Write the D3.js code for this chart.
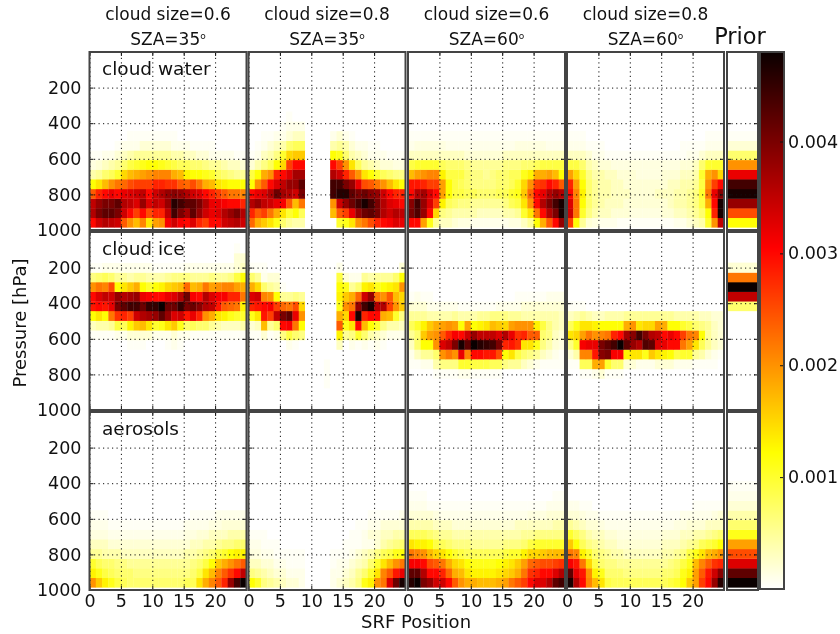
<!DOCTYPE html>
<head>
  <meta charset="utf-8">
  <script src="https://d3js.org/d3.v7.min.js"></script>
  <style>
    body { margin:0; background:#fff; }
    svg { font-family:"DejaVu Sans"; fill:#111; display:block; filter:blur(0.6px); }
    .grid line { stroke:#111; stroke-dasharray:1.2,3.3; stroke-width:1; }
    .grid path, .lab path, .lab line { display:none; }
    .lab text { font-size:17.5px; font-family:"DejaVu Sans"; fill:#111; }
    .tk line { stroke:#111; stroke-width:1; }
    .tk path { display:none; }
  </style>
</head>
<body>
<svg width="840" height="634"></svg>

<script>
  // cell values in units of 1e-4, rows go from the bottom level upward, columns are SRF position 0..24
  var pressureEdges = [985, 931, 877, 823, 769, 714, 660, 606, 552, 498, 443, 389, 335, 281, 227, 172, 118, 64, 10];
  var xTicks = [0, 5, 10, 15, 20];
  var yTicks = [200, 400, 600, 800, 1000];
  var cbarTicks = [0.001, 0.002, 0.003, 0.004];
  var topTitles = ["cloud size=0.6", "cloud size=0.8", "cloud size=0.6", "cloud size=0.8"];
  var szaTitles = ["SZA=35", "SZA=35", "SZA=60", "SZA=60"];
  var rowNames = ["cloud water", "cloud ice", "aerosols"];

  var water1 = [
    [30,34,36,35,34,24,20,17,21,14,19,20,31,34,31,30,33,28,26,30,30,34,35,36,34],
    [36,40,42,42,40,34,30,26,30,25,28,28,35,44,40,37,42,38,34,32,33,36,38,40,36],
    [35,38,40,40,42,36,35,33,38,33,35,34,38,46,44,42,42,40,36,32,32,31,30,30,28],
    [24,28,30,32,30,32,33,34,35,30,34,36,38,39,38,36,34,33,30,28,26,24,22,22,21],
    [12,14,17,20,22,23,25,26,26,26,28,28,27,27,24,23,25,22,18,17,14,13,12,12,12],
    [4,5,7,8,10,15,17,18,19,20,21,21,21,18,17,13,12,12,11,10,8,7,6,5,5],
    [1.5,2,3,4,5,7,9,10,11,12,12,11,10,9,8,8,7,7,6,5,5,4,3,3,2],
    [0.5,0.5,1,1,2,3,4,5,5,5,5,5,5,4,4,3,3,2,2,1,1,1,1,0.5,0.5],
    [0,0,0,0,0.5,1,1,1,2,2,2,2,2,1,1,1,0.5,0.5,0.5,0.5,0,0,0,0,0],
    [0,0,0,0,0,0,0.5,0.5,0.5,0.5,0.5,0.5,0.5,0.5,0,0,0,0,0,0,0,0,0,0,0]
  ];
  var water2 = [
    [23,18,16,14,11,7,5,4,4,0,0,0,0,0,10,11,14,20,22,25,28,30,31,33,32],
    [28,24,26,22,18,14,10,12,8,0,0,0,0,17,24,26,32,38,41,42,40,36,34,36,35],
    [36,38,35,34,32,31,24,17,22,0,0,0,0,20,34,38,41,44,47,44,40,36,33,32,30],
    [30,32,33,36,41,37,36,34,40,0,0,0,0,44,46,46,42,40,41,39,38,34,30,28,28],
    [12,20,24,30,33,35,38,38,42,0,0,0,0,44,44,40,38,32,25,24,22,20,17,14,12],
    [9,12,18,20,28,30,33,37,37,0,0,0,0,36,34,28,24,20,14,12,10,8,7,6,6],
    [2,4,6,8,12,15,26,30,30,0,0,0,0,30,26,20,14,8,5,4,3,2,2,1.5,1.5],
    [0.5,1,3,4,6,10,15,16,16,0,0,0,0,12,11,7,4,3,2,1,1,1,0.5,0.5,0.5],
    [0,0.5,1,2,3,4,7,8,8,0,0,0,0,4,5,4,2,1,1,0.5,0.5,0,0,0,0],
    [0,0,0.5,0.5,1,1,2,3,3,0,0,0,0,1,2,1,0.5,0,0,0,0,0,0,0,0],
    [0,0,0,0,0,0.5,1,1,1,0,0,0,0,0,0,0,0,0,0,0,0,0,0,0,0],
    [0,0,0,0,0,0,0.5,0,0,0,0,0,0,0,0,0,0,0,0,0,0,0,0,0,0]
  ];
  var water3 = [
    [30,30,19,11,5,3,3,2,1.5,1.5,1,1,1,1,1,1,1.5,1.5,3,5,12,18,24,30,38],
    [40,43,38,30,15,6,5,4,4,4,4,3,3,3,3,4,4,5,10,14,22,30,36,40,47],
    [39,44,38,33,26,13,8,7,6,6,5,5,5,5,5,6,8,9,14,20,30,36,40,44,47],
    [30,36,37,33,30,19,12,9,9,8,8,7,7,7,8,8,10,11,16,23,30,32,36,38,36],
    [29,29,28,26,26,19,12,9,8,7,6,6,6,6,7,7,8,10,15,20,26,27,30,28,24],
    [17,19,20,21,21,13,9,9,9,7,6,6,5,6,7,7,8,8,11,13,18,18,19,17,12],
    [9,10,10,10,10,8,7,7,7,6,5,5,5,5,5,6,6,6,7,7,8,9,9,9,9],
    [3,3,3,3,3,3,3,3,3,2,2,2,2,2,2,3,3,3,3,3,3,3,3,3,3],
    [1,1.5,1.5,1.5,1.5,1.5,1,1,1,1,1,1,1,1,1,1,1,1.5,1.5,1.5,1.5,1.5,1,1,1],
    [0.5,0.5,0.5,0.5,0.5,0.5,0.5,0.5,0.5,0.5,0.5,0.5,0.5,0.5,0.5,0.5,0.5,0.5,0.5,0.5,0.5,0.5,0.5,0.5,0.5]
  ];
  var water4 = [
    [26,12,5,2,1.5,1,1,1,0.5,0.5,0.5,0.5,0.5,0.5,0.5,0.5,0.5,1,1,2,3,4,10,20,35],
    [34,22,10,6,4,3,3,2,2,2,1.5,1.5,1.5,1.5,1.5,2,2,3,3,4,5,7,12,28,47],
    [33,22,12,7,5,4,3,3,3,2,2,2,2,2,2,2,3,4,4,5,6,9,18,30,47],
    [30,21,13,7,5,4,4,3,3,3,2,2,2,2,3,3,3,4,4,5,6,10,22,32,39],
    [28,19,12,7,5,4,4,3,3,2,2,2,2,2,2,2,3,3,4,4,5,9,20,26,30],
    [19,15,10,6,4,4,3,3,2,2,2,1.5,1.5,1.5,1.5,2,2,2,3,3,4,10,18,20,15],
    [9,9,7,4,3,2,2,1.5,1.5,1.5,1.5,1.5,1.5,1.5,1.5,1.5,1.5,1.5,2,2,3,7,10,10,10],
    [3,3,3,2,1,1,0.5,0.5,0.5,0.5,0.5,0.5,0.5,0.5,0.5,0.5,0.5,0.5,0.5,1,1,2,3,3,3],
    [1,1,1,0.5,0.5,0.5,0,0,0,0,0,0,0,0,0,0,0,0,0.5,0.5,0.5,0.5,1,1,1],
    [0.5,0.5,0.5,0,0,0,0,0,0,0,0,0,0,0,0,0,0,0,0,0,0,0,0.5,0.5,0.5]
  ];
  var ice1 = [
    [0,0,0,0,0,0,0,0,0,0,0,0,0,0,0,0,0,0,0,0,0,0,0,0,0],
    [0,0,0,0,0,0,0,0,0,0,0,0,0,0,0,0,0,0,0,0,0,0,0,0,0],
    [0,0,0,0,0,0,0,0,0,0,0,0,0,0,0,0,0,0,0,0,0,0,0,0,0],
    [0,0,0,0,0,0,0,0,0,0,0,0,0,0,0,0,0,0,0,0,0,0,0,0,0],
    [0,0,0,0,0,0,0,0,0,0,0,0,0,0,0,0,0,0,0,0,0,0,0,0,0],
    [0,0,0,0,0,0,0,0,0,0,0,0,0,0,0,0,0,0,0,0,0,0,0,0,0],
    [0,0,0,0,0,0,0.5,0.5,0.5,0,0,0,0.5,1,0.5,0,0,0,0,0,0,0,0,0,0],
    [0.5,0.5,0.5,0.5,1,1,2,2,2,2,1,1,1,2,1,1,0.5,0.5,0.5,0.5,0.5,0.5,0.5,0.5,0.5],
    [3,4,4,5,9,8,13,16,17,14,10,11,14,16,11,7,8,7,7,5,4,3,3,3,4],
    [12,14,12,22,27,28,26,34,36,37,38,42,38,33,34,29,32,28,20,18,14,13,11,10,10],
    [29,30,29,32,40,42,44,44,41,45,45,48,41,41,45,40,41,39,36,35,29,24,23,22,13],
    [30,33,35,34,38,36,37,38,32,31,30,30,32,33,36,41,31,30,36,33,31,31,28,28,22],
    [20,22,21,25,12,14,16,18,12,10,12,13,15,16,17,23,17,18,22,19,20,21,21,19,18],
    [6,7,8,7,5,5,4,5,5,4,4,4,5,6,6,6,5,5,5,6,5,5,6,9,12],
    [0.5,0.5,1,1,1,1,1,1,1,1,0.5,0.5,0.5,0.5,0.5,1,1,1,1,1,1,1,1,2,3],
    [0,0,0,0,0,0,0,0,0,0,0,0,0,0,0,0,0,0,0,0,0,0,0,2,2],
    [0,0,0,0,0,0,0,0,0,0,0,0,0,0,0,0,0,0,0,0,0,0,0,0.5,0]
  ];
  var ice2 = [
    [0,0,0,0,0,0,0,0,0,0,0,0,0,0,0,0,0,0,0,0,0,0,0,0,0],
    [0,0,0,0,0,0,0,0,0,0,0,0,0,0,0,0,0,0,0,0,0,0,0,0,0],
    [0,0,0,0,0,0,0,0,0,0,0,0,0.5,0,0,0,0,0,0,0,0,0,0,0,0],
    [0,0,0,0,0,0,0,0,0,0,0,0,0.5,0,0,0,0,0,0,0,0,0,0,0,0],
    [0,0,0,0,0,0,0,0,0,0,0,0,0.5,0,0,0,0,0,0,0,0,0,0,0,0],
    [0,0,0,0,0,0,0,0,0,0,0,0,0,0,0,0,0,0,0,0,0,0,0,0,0],
    [0,0,0,0,0,0,1,0.5,0,0,0,0,0,0,3,0,1,0.5,1,0.5,1,0.5,0,0,0],
    [0.5,0.5,2,0.5,1,6,9,7,6,0,0,0,0,0,13,5,6,10,7,4,3,2,1,1,1],
    [2,3,17,5,7,30,31,22,12,0,0,0,0,0,24,11,14,30,17,12,10,6,4,4,3],
    [11,14,29,26,35,40,42,32,20,0,0,0,0,0,18,15,30,47,28,30,30,18,17,10,6],
    [28,29,30,31,26,23,22,25,15,0,0,0,0,0,11,20,22,38,44,47,36,36,26,20,16],
    [33,34,21,20,12,5,5,6,5,0,0,0,0,0,13,16,18,23,34,38,22,20,24,17,15],
    [18,15,7,5,4,0.5,0,0,0,0,0,0,0,0,12,11,5,7,13,14,11,12,13,14,20],
    [7,5,1,2,2,0,0,0,0,0,0,0,0,0,9,2,1,1,5,4,5,5,5,7,12],
    [0.5,0.5,0.5,0,0,0,0,0,0,0,0,0,0,0,1,0,0,0,0,0,0,0,0,0,2]
  ];
  var ice3 = [
    [0,0,0,0,0,0,0,0,0,0,0,0,0,0,0,0,0,0,0,0,0,0,0,0,0],
    [0,0,0,0,0,0,0,0,0,0,0,0,0,0,0,0,0,0,0,0,0,0,0,0,0],
    [0,0,0,0,0,0,0,0,0,0,0,0,0,0,0,0,0,0,0,0,0,0,0,0,0],
    [0,0,0,0,0.5,0.5,0.5,0.5,1,1,0.5,0.5,0.5,0.5,0.5,0,0,0,0,0,0,0,0,0,0],
    [0.5,0.5,1,1,4,6,6,6,10,10,9,9,9,8,8,6,5,5,3,2,1,0.5,0.5,0.5,0.5],
    [1,3,5,5,7,20,22,20,32,21,30,30,29,29,25,12,14,9,7,6,5,3,2,1,0.5],
    [3,7,12,12,20,33,35,40,47,42,48,46,45,44,40,28,29,27,14,14,11,6,4,2,1.5],
    [5,7,16,19,20,24,28,31,30,34,38,35,35,35,33,36,32,27,28,24,24,7,6,3,2],
    [8,10,13,16,18,19,20,19,12,19,12,13,14,17,16,15,19,20,20,20,13,9,6,4,3],
    [5,5,5,4,4,4,4,5,4,4,4,5,5,6,6,6,5,5,4,4,4,4,4,4,3],
    [2,2,2,1,1,1,1,1,0.5,0.5,0.5,0.5,0.5,0.5,1,1,1,1,2,2,2,2,2,2,2],
    [0.5,1,0.5,0.5,0,0,0,0,0,0,0,0,0,0,0,0,0,0.5,0.5,0.5,0.5,0.5,1,1,1]
  ];
  var ice4 = [
    [0,0,0,0,0,0,0,0,0,0,0,0,0,0,0,0,0,0,0,0,0,0,0,0,0],
    [0,0,0,0,0,0,0,0,0,0,0,0,0,0,0,0,0,0,0,0,0,0,0,0,0],
    [0,0,0,0,0,0,0,0,0,0,0,0,0,0,0,0,0,0,0,0,0,0,0,0,0],
    [0,0,0.5,0.5,1,2,0.5,0.5,0.5,0,0,0,0,0,0,0,0,0,0,0,0,0,0,0,0],
    [0.5,0.5,8,8,18,19,10,7,7,2,2,1,1,1,2,2,2,1,1,1,0.5,0.5,0.5,0.5,0],
    [2,4,21,21,29,39,40,31,31,13,14,14,11,16,14,13,12,9,10,10,5,4,2,1,0.5],
    [6,10,31,32,32,40,42,44,48,42,38,36,43,42,33,32,30,30,22,19,14,8,5,3,2],
    [14,15,19,22,20,21,22,28,30,37,39,44,40,36,35,30,32,30,26,22,21,12,5,3,2],
    [8,11,14,14,13,12,12,12,12,18,20,14,15,15,19,18,12,12,10,9,7,6,5,3,2],
    [3,4,5,4,3,3,4,4,4,5,5,5,5,5,5,5,5,4,4,4,4,3,3,2,2],
    [0.5,0.5,0.5,0,0,0,0,0,0,0,0,0,0,0,0,0,0,0,0,0,0,0,0,0,0]
  ];
  var aero1 = [
    [20,16,13,11,9,8,7,7,7,7,7,7,7,7,7,8,8,14,18,21,24,28,38,44,48],
    [13,11,9,8,7,7,7,6,6,6,6,6,6,6,6,6,7,9,14,17,21,24,27,30,35],
    [10,8,7,7,6,6,5,5,5,5,5,5,5,5,5,5,6,7,9,12,16,18,20,22,24],
    [5,5,4,4,4,3,3,3,3,3,3,3,3,3,3,4,4,5,6,7,9,10,12,13,13],
    [3,3,3,2,2,2,2,2,2,2,2,2,2,2,2,2,3,3,4,4,5,6,6,7,7],
    [1.5,1.5,1.5,1,1,1,1,1,1,1,1,1,1,1,1,1.5,1.5,2,2,3,3,3,4,4,4],
    [1,1,1,0.5,0.5,0.5,0.5,0.5,0.5,0.5,0.5,0.5,0.5,0.5,0.5,1,1,1,1,1.5,1.5,2,2,2,2],
    [0.5,0.5,0.5,0,0,0,0,0,0,0,0,0,0,0,0,0,0.5,0.5,0.5,0.5,1,1,1,1,1]
  ];
  var aero2 = [
    [12,10,6,5,4,3,2,2,1,0,0,0,0,1,2,3,4,6,11,13,20,22,33,41,47],
    [6,5,4,3,2,2,1,1,1,0,0,0,0,1,1,2,3,5,7,10,14,21,24,29,32],
    [3,3,2,2,1,1,0.5,0.5,0.5,0,0,0,0,0.5,1,1,2,3,4,7,10,14,17,20,22],
    [1.5,1.5,1,1,0.5,0.5,0.5,0.5,0.5,0,0,0,0,0.5,0.5,0.5,1,2,3,4,6,8,9,11,12],
    [1,1,0.5,0.5,0.5,0,0,0,0,0,0,0,0,0,0,0.5,0.5,0.5,1,1,2,4,5,6,7],
    [0.5,0.5,0.5,0,0,0,0,0,0,0,0,0,0,0,0,0,0.5,0.5,1,2,2,3,3,4,4],
    [0,0,0,0,0,0,0,0,0,0,0,0,0,0,0,0,0,0.5,0.5,1,1,2,2,2,2],
    [0,0,0,0,0,0,0,0,0,0,0,0,0,0,0,0,0,0,0,0.5,0.5,0.5,0.5,0.5,1]
  ];
  var aero3 = [
    [46,48,40,38,34,34,30,24,20,18,18,17,17,17,18,19,22,24,26,30,33,33,36,42,44],
    [42,42,36,30,30,28,23,18,17,14,13,13,13,13,14,15,16,18,22,27,28,30,30,33,36],
    [31,31,30,25,24,22,18,15,14,12,11,11,11,11,12,13,14,16,19,23,24,25,25,26,27],
    [22,21,20,17,15,14,12,10,9,8,8,8,8,8,8,9,10,10,13,15,15,16,17,17,17],
    [14,13,13,12,9,8,7,6,6,6,5,5,5,5,5,6,6,6,7,9,10,10,10,10,10],
    [8,8,8,7,6,5,5,4,4,4,4,4,4,4,4,4,4,4,5,5,6,6,6,6,6],
    [4,4,4,4,3,3,3,2,2,2,2,2,2,2,2,2,2,3,3,3,3,3,3,4,4],
    [2,2,2,2,1.5,1,1,1,1,1,1,1,1,1,1,1,1,1,1,1.5,1.5,1.5,2,2,2],
    [1,1,1,0.5,0.5,0.5,0.5,0.5,0.5,0.5,0.5,0.5,0.5,0.5,0.5,0.5,0.5,0.5,0.5,0.5,0.5,0.5,1,1,1],
    [0.5,0.5,0.5,0,0,0,0,0,0,0,0,0,0,0,0,0,0,0,0,0,0,0,0,0.5,0.5]
  ];
  var aero4 = [
    [47,36,30,21,17,14,9,8,8,8,8,8,8,8,8,8,9,10,12,16,19,26,30,38,46],
    [42,32,29,20,13,11,7,7,7,6,6,6,6,6,6,7,7,8,11,13,19,24,29,34,39],
    [31,29,22,15,9,7,6,6,5,5,5,5,5,5,5,5,6,7,9,11,17,21,24,27,28],
    [22,21,13,10,7,6,5,4,4,3,3,3,3,3,3,4,4,5,6,9,11,14,17,18,20],
    [16,12,8,6,5,4,3,3,2,2,2,2,2,2,2,3,3,3,4,5,6,8,9,10,12],
    [10,8,6,4,3,3,2,2,1.5,1.5,1.5,1.5,1.5,1.5,1.5,2,2,2,3,3,4,4,5,6,7],
    [5,4,3,2,2,1.5,1,1,1,1,1,1,1,1,1,1,1,1.5,1.5,2,2,2,3,3,3],
    [2,2,1.5,1,1,0.5,0.5,0.5,0.5,0.5,0.5,0.5,0.5,0.5,0.5,0.5,0.5,0.5,1,1,1,1,1,1.5,2],
    [1,1,0.5,0.5,0,0,0,0,0,0,0,0,0,0,0,0,0,0,0,0,0.5,0.5,0.5,0.5,0.5]
  ];
  var priorWater = [12, 25, 38, 47, 44, 32, 20, 7, 2, 0.5, 0];
  var priorIce = [0, 0, 0, 0, 0, 0, 0, 0, 0, 0, 7, 35, 48, 22, 2];
  var priorAero = [48, 42, 33, 25, 19, 11, 7, 4, 2, 1, 0.5];

  var heat = [[water1, water2, water3, water4], [ice1, ice2, ice3, ice4], [aero1, aero2, aero3, aero4]];
  var priors = [priorWater, priorIce, priorAero];

  var svg = d3.select("svg");
  var colLeft = [89.5, 248.5, 408, 567];
  var colW = 157;
  var rowTop = [52, 232, 412];
  var rowH = 178;
  var priorLeft = 727, priorW = 31;
  var vmax = 0.0048;

  // same as matplotlib hot_r
  var color = d3.scaleLinear()
    .domain([0, 0.254 * vmax, 0.635 * vmax, vmax])
    .range(["#ffffff", "#ffff00", "#ff0000", "#0a0000"])
    .clamp(true);

  function panel(g, left, width, top, xs, rows, showX, showY) {
    var y = d3.scaleLinear().domain([1000, 0]).range([rowH, 0]);
    var a = g.append("g").attr("transform", "translate(" + left + "," + top + ")");
    rows.forEach(function(row, r) {
      a.selectAll(null)
        .data(row)
        .enter()
        .append("rect")
        .attr("x", function(d, i) { return xs(i); })
        .attr("width", function(d, i) { return xs(i + 1) - xs(i) + 0.3; })
        .attr("y", y(pressureEdges[r + 1]))
        .attr("height", y(pressureEdges[r]) - y(pressureEdges[r + 1]) + 0.3)
        .attr("fill", function(d) { return color(d * 1e-4); });
    });

    // dotted grid
    var xt = xs.domain()[1] > 1 ? xTicks : [];
    a.append("g").attr("class", "grid")
      .attr("transform", "translate(0," + rowH + ")")
      .call(d3.axisBottom(xs).tickValues(xt).tickSize(-rowH).tickFormat(""));
    a.append("g").attr("class", "grid")
      .call(d3.axisLeft(y).tickValues(yTicks.slice(0, 4)).tickSize(-width).tickFormat(""));

    // short solid ticks on all four sides, pointing inward
    a.append("g").attr("class", "tk").attr("transform", "translate(0," + rowH + ")")
      .call(d3.axisBottom(xs).tickValues(xt).tickSize(-4).tickFormat(""));
    a.append("g").attr("class", "tk")
      .call(d3.axisTop(xs).tickValues(xt).tickSize(-4).tickFormat(""));
    a.append("g").attr("class", "tk")
      .call(d3.axisLeft(y).tickValues(yTicks.slice(0, 4)).tickSize(-4).tickFormat(""));
    a.append("g").attr("class", "tk").attr("transform", "translate(" + width + ",0)")
      .call(d3.axisRight(y).tickValues(yTicks.slice(0, 4)).tickSize(-4).tickFormat(""));

    a.append("rect")
      .attr("width", width).attr("height", rowH)
      .attr("fill", "none").attr("stroke", "#444").attr("stroke-width", 2);

    if (showX) {
      a.append("g").attr("class", "lab").attr("transform", "translate(0," + rowH + ")")
        .call(d3.axisBottom(xs).tickValues(xTicks).tickSize(0).tickPadding(5));
    }
    if (showY) {
      a.append("g").attr("class", "lab")
        .call(d3.axisLeft(y).tickValues(yTicks).tickSize(0).tickPadding(8).tickFormat(d3.format("d")));
    }
  }

  var xPos = d3.scaleLinear().domain([0, 25]).range([0, colW]);
  var xPrior = d3.scaleLinear().domain([0, 1]).range([0, priorW]);

  heat.forEach(function(rowPanels, r) {
    rowPanels.forEach(function(rows, c) {
      panel(svg, colLeft[c], colW, rowTop[r], xPos, rows, r == 2, c == 0);
    });
    panel(svg, priorLeft, priorW, rowTop[r], xPrior, priors[r].map(function(v) { return [v]; }), false, false);
    svg.append("text")
      .attr("x", 102).attr("y", rowTop[r] + 23)
      .style("font-size", "18.5px")
      .text(rowNames[r]);
  });

  // column titles
  topTitles.forEach(function(t, c) {
    var cx = colLeft[c] + colW / 2;
    svg.append("text").attr("x", cx).attr("y", 20)
      .attr("text-anchor", "middle").style("font-size", "17px").text(t);
    var sza = svg.append("text").attr("x", cx).attr("y", 45)
      .attr("text-anchor", "middle").style("font-size", "17px").text(szaTitles[c]);
    sza.append("tspan").attr("dy", -6).style("font-size", "9px").text("o");
  });
  svg.append("text").attr("x", 740).attr("y", 44)
    .attr("text-anchor", "middle").style("font-size", "22.5px").text("Prior");

  // colour bar
  var cbar = svg.append("g").attr("transform", "translate(760,52)");
  var cbarH = 537, cbarW = 24;
  var cy = d3.scaleLinear().domain([0, vmax]).range([cbarH, 0]);
  cbar.selectAll("rect")
    .data(d3.range(cbarH))
    .enter()
    .append("rect")
    .attr("x", 0).attr("width", cbarW)
    .attr("y", function(d) { return d; })
    .attr("height", 1.2)
    .attr("fill", function(d) { return color(cy.invert(d + 0.5)); });
  cbar.append("g").attr("class", "tk").attr("transform", "translate(" + cbarW + ",0)")
    .call(d3.axisRight(cy).tickValues(cbarTicks).tickSize(-4).tickFormat(""));
  cbar.append("g").attr("class", "lab").attr("transform", "translate(" + cbarW + ",0)")
    .call(d3.axisRight(cy).tickValues(cbarTicks).tickSize(0).tickPadding(4).tickFormat(d3.format(".3f")));
  cbar.append("rect").attr("width", cbarW).attr("height", cbarH)
    .attr("fill", "none").attr("stroke", "#444").attr("stroke-width", 2);

  svg.append("text").attr("x", 416).attr("y", 628)
    .attr("text-anchor", "middle").style("font-size", "18px").text("SRF Position");
  svg.append("text")
    .attr("transform", "translate(26,323) rotate(-90)")
    .attr("text-anchor", "middle").style("font-size", "18px").text("Pressure [hPa]");
</script>
</body>
